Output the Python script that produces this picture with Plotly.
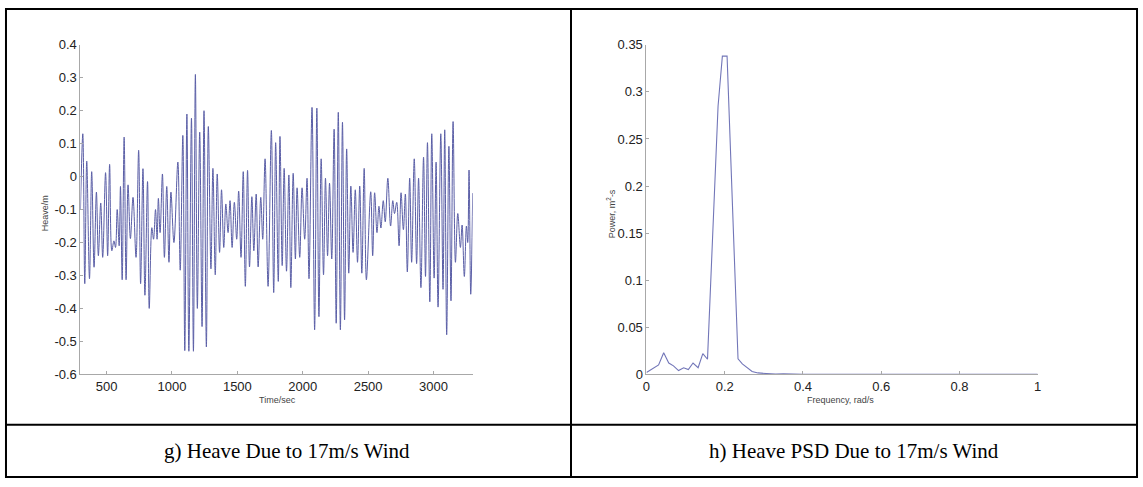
import plotly.graph_objects as go

# ---- data: heave time history (extrema) ----
heave_time = [300, 318, 333, 348, 369, 386, 404, 422, 437, 455, 470, 492, 508, 523, 540, 556, 568, 581, 596, 606,
              619, 634, 649, 664, 682, 702, 725, 745, 760, 778, 793, 813, 826, 846, 859, 874, 886, 896, 909, 927,
              942, 960, 977, 992, 1015, 1045, 1063, 1083, 1098, 1114, 1129, 1149, 1164, 1179, 1194, 1212, 1230, 1245, 1263, 1278,
              1298, 1313, 1331, 1346, 1364, 1379, 1396, 1412, 1429, 1444, 1460, 1477, 1495, 1510, 1528, 1545, 1561, 1578, 1593, 1611,
              1626, 1644, 1659, 1679, 1694, 1712, 1735, 1760, 1778, 1793, 1813, 1826, 1843, 1858, 1876, 1894, 1909, 1927, 1944, 1957,
              1977, 1995, 2015, 2033, 2048, 2071, 2091, 2108, 2124, 2141, 2159, 2174, 2190, 2205, 2222, 2240, 2256, 2272, 2288, 2304,
              2320, 2336, 2352, 2368, 2385, 2402, 2419, 2436, 2452, 2470, 2487, 2520, 2535, 2550, 2568, 2583, 2598, 2616, 2631, 2651,
              2672, 2689, 2702, 2719, 2737, 2752, 2770, 2785, 2800, 2818, 2833, 2853, 2871, 2886, 2904, 2924, 2939, 2954, 2972, 2987,
              3005, 3020, 3035, 3056, 3073, 3086, 3101, 3118, 3134, 3150, 3168, 3186, 3206, 3219, 3236, 3252, 3262, 3272, 3285, 3300]
heave_val = [-0.10, 0.13, -0.325, 0.047, -0.31, 0.015, -0.275, -0.047, -0.24, -0.08, -0.245, 0.012, -0.24, 0.037, -0.225, -0.195, -0.215, -0.10, -0.21, -0.03,
             -0.313, 0.12, -0.313, -0.025, -0.188, -0.063, -0.245, 0.08, -0.325, 0.024, -0.36, -0.015, -0.40, -0.155, -0.19, -0.10, -0.19, -0.066, -0.17, 0.008,
             -0.245, -0.03, -0.26, -0.047, -0.20, 0.044, -0.284, 0.125, -0.528, 0.19, -0.53, 0.177, -0.53, 0.31, -0.40, 0.135, -0.455, 0.20, -0.517, 0.152,
             -0.28, 0.025, -0.298, 0.008, -0.23, -0.04, -0.215, -0.083, -0.17, -0.073, -0.215, -0.078, -0.19, -0.044, -0.245, 0.015, -0.333, 0.019, -0.274, -0.061,
             -0.225, -0.053, -0.274, -0.063, -0.19, 0.054, -0.333, 0.14, -0.352, 0.103, -0.318, 0.122, -0.27, 0.025, -0.287, 0.005, -0.337, 0.01, -0.25, -0.034,
             -0.245, -0.034, -0.19, -0.005, -0.31, 0.21, -0.465, 0.208, -0.425, 0.054, -0.298, -0.005, -0.24, -0.02, -0.25, 0.144, -0.445, 0.195, -0.465, 0.165,
             -0.435, 0.084, -0.293, -0.029, -0.23, -0.04, -0.26, -0.029, -0.293, 0.025, -0.313, -0.046, -0.24, -0.049, -0.17, -0.09, -0.156, -0.073, -0.137, -0.005,
             -0.15, -0.073, -0.112, -0.078, -0.21, -0.049, -0.161, -0.053, -0.289, -0.005, -0.26, 0.054, -0.264, -0.005, -0.337, 0.059, -0.303, 0.103, -0.38, 0.13,
             -0.308, 0.044, -0.396, 0.13, -0.342, 0.142, -0.48, 0.092, -0.377, 0.167, -0.26, -0.112, -0.215, -0.147, -0.303, -0.15, -0.20, 0.02, -0.357, -0.05]

# ---- data: heave PSD ----
psd_freq = [0.000, 0.031, 0.044, 0.057, 0.069, 0.082, 0.095, 0.107, 0.119, 0.132, 0.144, 0.156, 0.183, 0.194, 0.206,
            0.234, 0.245, 0.260, 0.270, 0.285, 0.310, 0.330, 0.350, 0.370, 0.400, 0.500, 0.600, 0.700, 0.800, 0.900, 1.000]
psd_power = [0.002, 0.010, 0.023, 0.012, 0.009, 0.004, 0.007, 0.005, 0.012, 0.007, 0.022, 0.016, 0.285, 0.338, 0.338,
             0.0165, 0.011, 0.006, 0.003, 0.0015, 0.0005, 0.0002, 0.0005, 0.0001, 0.0, 0.0, 0.0, 0.0, 0.0, 0.0, 0.0]

# ---- tick labels ----
heave_xticks = [500, 1000, 1500, 2000, 2500, 3000]
heave_yticks = [0.4, 0.3, 0.2, 0.1, 0.0, -0.1, -0.2, -0.3, -0.4, -0.5, -0.6]
heave_yticktext = ["0.4", "0.3", "0.2", "0.1", "0", "-0.1", "-0.2", "-0.3", "-0.4", "-0.5", "-0.6"]
psd_xticks = [0, 0.2, 0.4, 0.6, 0.8, 1.0]
psd_xticktext = ["0", "0.2", "0.4", "0.6", "0.8", "1"]
psd_yticks = [0, 0.05, 0.1, 0.15, 0.2, 0.25, 0.3, 0.35]
psd_yticktext = ["0", "0.05", "0.1", "0.15", "0.2", "0.25", "0.3", "0.35"]

captions = ["g) Heave Due to 17m/s Wind", "h) Heave PSD Due to 17m/s Wind"]

W, H = 1143, 487
AX = "#a8a8a8"
TICKFONT = dict(family="Liberation Sans, Arial", size=13, color="#222222")

fig = go.Figure()
fig.add_trace(go.Scatter(x=heave_time, y=heave_val, mode="lines",
                         line=dict(color="#5a5ea6", width=1, shape="spline", smoothing=1.0),
                         xaxis="x", yaxis="y", showlegend=False))
fig.add_trace(go.Scatter(x=psd_freq, y=psd_power, mode="lines", line=dict(color="#7276b8", width=1.1),
                         xaxis="x2", yaxis="y2", showlegend=False))

def px(x):
    return x / W

def py(y):
    return 1 - y / H

common_axis = dict(showgrid=False, zeroline=False, showline=True, linecolor=AX, linewidth=1,
                   ticks="inside", ticklen=3, tickcolor=AX, tickfont=TICKFONT, mirror=False)

fig.update_layout(
    width=W, height=H, margin=dict(l=0, r=0, t=0, b=0),
    paper_bgcolor="white", plot_bgcolor="white",
    xaxis=dict(domain=[px(77), px(472)], range=[300, 3300], tickvals=heave_xticks, anchor="y", **common_axis),
    yaxis=dict(domain=[py(379), py(39)], range=[-0.6, 0.4], tickvals=heave_yticks, ticktext=heave_yticktext, anchor="x", **common_axis),
    xaxis2=dict(domain=[px(647), px(1041)], range=[0, 1], tickvals=psd_xticks, ticktext=psd_xticktext, anchor="y2", **common_axis),
    yaxis2=dict(domain=[py(379), py(39)], range=[0, 0.35], tickvals=psd_yticks, ticktext=psd_yticktext, anchor="x2", **common_axis),
)

small = dict(family="Liberation Sans, Arial", size=9, color="#444444")
ann = [
    dict(x=px(275), y=py(405), text="Time/sec", rotation=0),
    dict(x=px(42), y=py(213), text="Heave/m", rotation=-90),
    dict(x=px(842), y=py(405), text="Frequency, rad/s", rotation=0),
    dict(x=px(612), y=py(213), text="Power, m<sup>2</sup>-s", rotation=-90),
]
for a in ann:
    fig.add_annotation(x=a["x"], y=a["y"], xref="paper", yref="paper", text=a["text"], textangle=a["rotation"],
                       showarrow=False, font=small, xanchor="center", yanchor="middle")

capfont = dict(family="Liberation Serif, Times New Roman", size=21, color="#000000")
fig.add_annotation(x=px(285), y=py(458), xref="paper", yref="paper", text=captions[0], showarrow=False,
                   font=capfont, xanchor="center", yanchor="middle")
fig.add_annotation(x=px(856), y=py(458), xref="paper", yref="paper", text=captions[1], showarrow=False,
                   font=capfont, xanchor="center", yanchor="middle")

# table borders
border = dict(color="black", width=2)
shapes = [
    dict(type="rect", x0=px(2), x1=px(1141), y0=py(485), y1=py(2)),
    dict(type="line", x0=px(571), x1=px(571), y0=py(485), y1=py(2)),
    dict(type="line", x0=px(2), x1=px(1141), y0=py(431), y1=py(431)),
]
for s in shapes:
    fig.add_shape(xref="paper", yref="paper", line=border, **s)

fig.write_html("out.html")
